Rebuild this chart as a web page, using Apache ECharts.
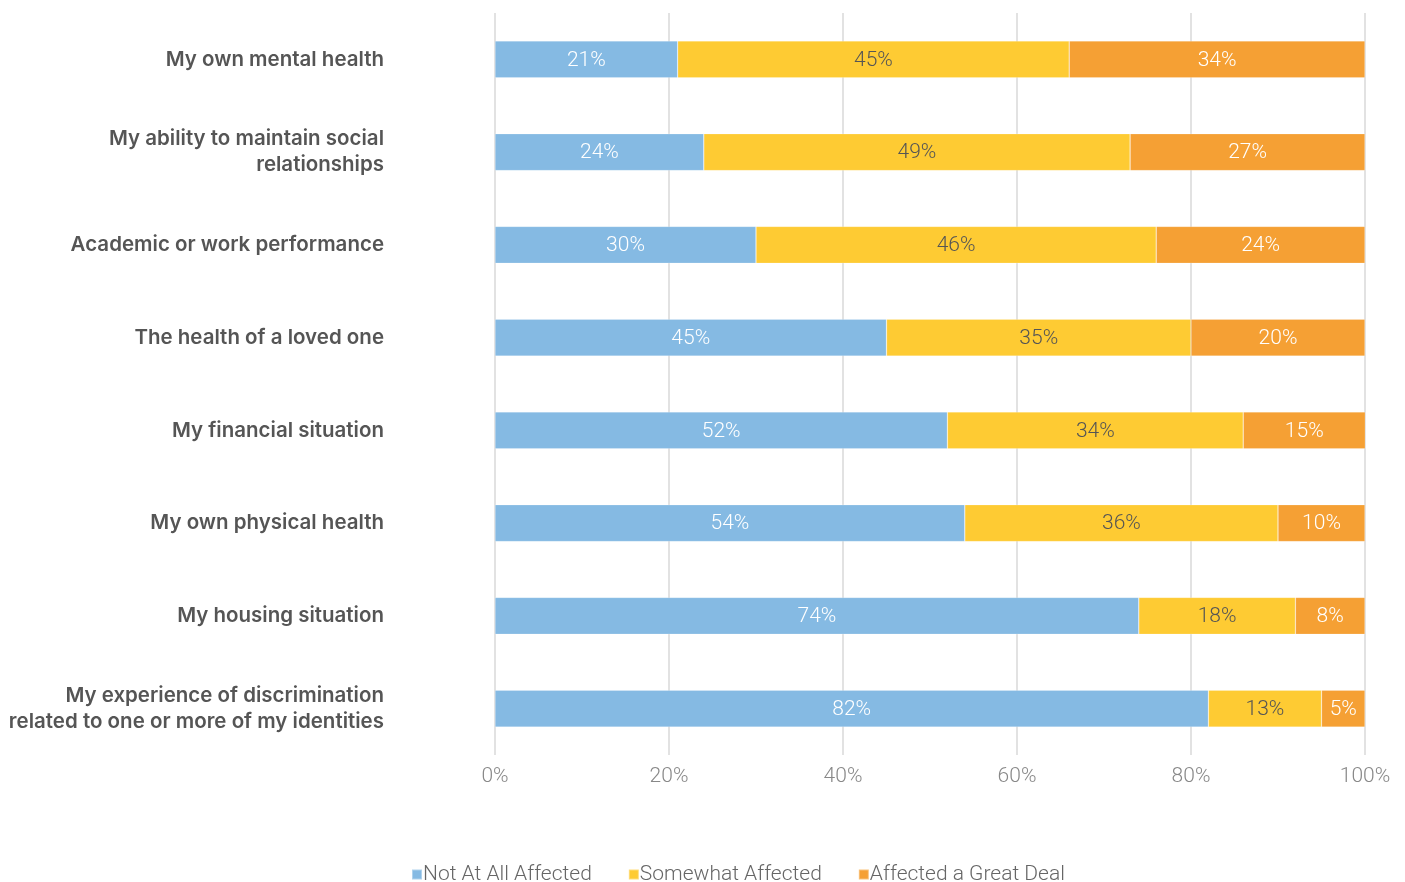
<!DOCTYPE html>
<html>
<head>
<meta charset="utf-8">
<script src="https://cdn.jsdelivr.net/npm/echarts@6/dist/echarts.min.js"></script>
<style>
  html, body { margin: 0; padding: 0; background: #fff; }
  #chart { width: 1405px; height: 882px; }
</style>
</head>
<body>
<div id="chart"></div>
<script>
// Survey items, top to bottom
const categories = [
  'My own mental health',
  'My ability to maintain social\nrelationships',
  'Academic or work performance',
  'The health of a loved one',
  'My financial situation',
  'My own physical health',
  'My housing situation',
  'My experience of discrimination\nrelated to one or more of my identities'
];
const notAtAll = [21, 24, 30, 45, 52, 54, 74, 82];
const somewhat = [45, 49, 46, 35, 34, 36, 18, 13];
const greatDeal = [34, 27, 24, 20, 15, 10, 8, 5];
const seriesNames = ['Not At All Affected', 'Somewhat Affected', 'Affected a Great Deal'];
const xTicks = [0, 20, 40, 60, 80, 100];

const colors = ['#85BAE3', '#FECB33', '#F5A034'];
const labelColors = ['#ffffff', '#555555', '#ffffff'];
const numFont = 'Roboto, "Liberation Sans", sans-serif';

const chart = echarts.init(document.getElementById('chart'));

function barSeries(name, data, idx) {
  return {
    name: name,
    type: 'bar',
    stack: 'total',
    data: data,
    barWidth: 37,
    itemStyle: { color: colors[idx], borderColor: 'rgba(255,255,255,0.35)', borderWidth: 0.6 },
    label: {
      show: true,
      position: 'inside',
      formatter: p => p.value + '%',
      color: labelColors[idx],
      fontFamily: numFont,
      fontWeight: 300,
      fontSize: 21,
      offset: [0, 1]
    },
    emphasis: { disabled: true }
  };
}

chart.setOption({
  animation: false,
  color: colors,
  grid: { left: 495, right: 40, top: 13, bottom: 127, containLabel: false },
  legend: {
    top: 859,
    left: 406,
    itemWidth: 10,
    itemHeight: 10,
    itemGap: 36,
    icon: 'rect',
    textStyle: { color: '#666', fontFamily: numFont, fontWeight: 300, fontSize: 21, padding: [0, 0, 0, -4] },
    data: seriesNames
  },
  xAxis: {
    type: 'value',
    min: 0,
    max: 100,
    interval: 20,
    axisLine: { show: false },
    axisTick: { show: false },
    splitLine: { lineStyle: { color: '#d9d9d9', width: 1.5 } },
    axisLabel: {
      formatter: v => xTicks.includes(v) ? v + '%' : '',
      color: '#888',
      fontFamily: numFont,
      fontWeight: 300,
      fontSize: 21,
      margin: 11
    }
  },
  yAxis: {
    type: 'category',
    inverse: true,
    data: categories,
    axisLine: { show: false },
    axisTick: { show: false },
    axisLabel: {
      color: '#555',
      fontFamily: 'Inter, "Liberation Sans", Arial, sans-serif',
      fontWeight: 600,
      fontSize: 20.5,
      lineHeight: 26,
      align: 'right',
      margin: 111
    }
  },
  series: [
    barSeries(seriesNames[0], notAtAll, 0),
    barSeries(seriesNames[1], somewhat, 1),
    barSeries(seriesNames[2], greatDeal, 2)
  ]
});
</script>
</body>
</html>
